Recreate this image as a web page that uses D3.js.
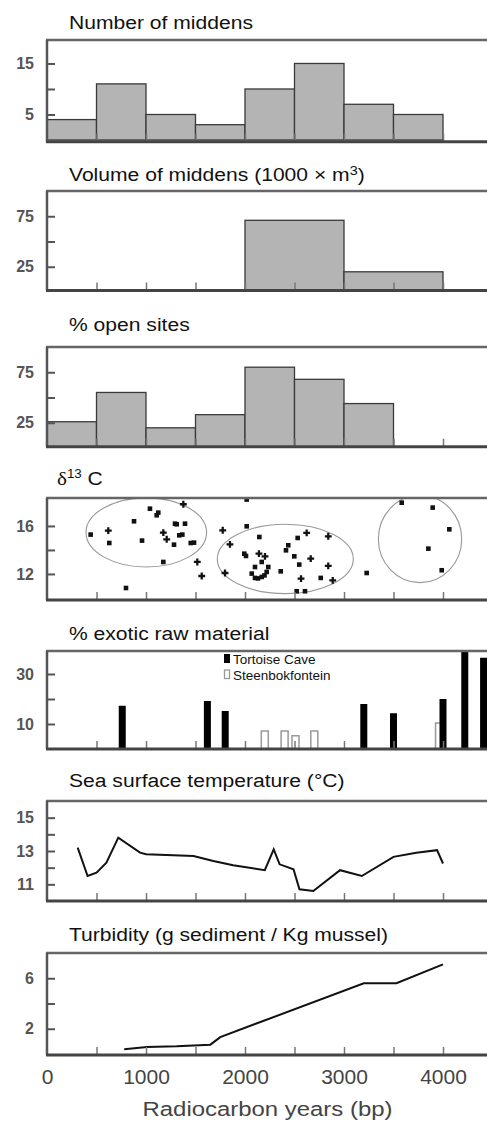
<!DOCTYPE html>
<html>
<head>
<meta charset="utf-8">
<script src="https://cdn.jsdelivr.net/npm/d3@7"></script>
<style>
body { margin: 0; background: #fff; }
svg text { font-family: "Liberation Sans", Arial, sans-serif; }
.title { font-size: 19px; fill: #111; }
.yax text { font-size: 16px; font-weight: bold; fill: #555; }
.xlab text { font-size: 21px; fill: #444; }
</style>
</head>
<body>
<div id="chart"></div>
<script>
// ---- data (years bp) ----
var bins500 = [0, 500, 1000, 1500, 2000, 2500, 3000, 3500, 4000];
var bins1000 = [0, 1000, 2000, 3000, 4000];
var middenCount = [4, 11, 5, 3, 10, 15, 7, 5];
var middenVolume = [2, 1, 71, 20];
var openSites = [26, 55, 20, 33, 80, 68, 44];

var c13Squares = [[441,15.28],[629,14.58],[798,10.83],[879,16.39],[960,14.78],[1040,17.44],[1108,16.89],
  [1124,17.11],[1175,13.0],[1283,14.44],[1293,16.19],[1310,16.14],[1336,15.22],[1367,15.28],[1394,16.19],
  [1452,14.58],[1485,14.61],[2017,18.2],[2017,15.97],[2145,15.08],[1993,13.69],[2010,13.5],[2169,13.0],
  [2101,12.58],[2068,12.03],[2101,11.67],[2131,11.63],[2169,11.75],[2197,11.88],[2219,12.17],[2235,12.58],
  [2361,12.22],[2532,15.0],[2437,14.39],[2414,13.97],[2498,13.47],[2548,12.78],[2765,11.67],[2522,10.56],
  [2606,10.56],[3229,12.08],[3583,17.94],[3896,17.53],[4064,15.72],[3852,14.11],[3987,12.31]];
var c13Crosses = [[619,15.61],[1175,15.44],[1209,14.89],[1377,17.81],[1518,13.0],[1563,11.83],[1775,15.64],
  [1848,14.47],[1798,12.08],[2141,13.69],[2202,13.47],[2623,15.42],[2664,13.28],[2566,11.61],[2841,15.14],
  [2841,12.67],[2886,11.47]];
var c13Clusters = [
  {year: 1003, value: 15.46, rYear: 609, rValue: 2.88},
  {year: 2407, value: 13.25, rYear: 687, rValue: 2.89},
  {year: 3768, value: 14.92, rYear: 421, rValue: 3.64}
];

var tortoiseCave = [[760,17.3],[1620,19.2],[1800,15.2],[3200,18],[3500,14.3],[4000,20],[4220,39],[4410,36.5]];
var steenbokfontein = [[2200,7.2],[2400,7.2],[2510,5.3],[2700,7.2],[3960,10.4]];

var sst = [[310,13.2],[410,11.5],[500,11.7],[600,12.3],[720,13.8],[940,12.9],[1000,12.8],[1480,12.7],
  [1680,12.4],[1880,12.15],[2200,11.85],[2290,13.1],[2350,12.2],[2490,11.9],[2550,10.7],[2690,10.6],
  [2960,11.85],[3180,11.5],[3500,12.65],[3730,12.9],[3940,13.05],[4000,12.25]];
var turbidity = [[780,0.38],[1010,0.56],[1310,0.61],[1650,0.74],[1750,1.34],[3200,5.6],[3530,5.6],[4000,7.1]];

var xMinorTicks = [500, 1000, 1500, 2000, 2500, 3000, 3500, 4000];
var xLabelTicks = [0, 1000, 2000, 3000, 4000];

// ---- layout ----
var W = 487, H = 1122;
var svg = d3.select("#chart").append("svg").attr("width", W).attr("height", H);
var x = d3.scaleLinear().domain([0, 4000]).range([47, 443]);

function title(tx, ty) {
  return svg.append("text").attr("class", "title")
    .attr("transform", "translate(" + tx + "," + ty + ") scale(1.11,1)");
}

var clipId = 0;
function panel(top, base, line, dom, ticks, labels) {
  var y = d3.scaleLinear().domain(dom).range([base, top]);
  var g = svg.append("g");
  clipId++;
  svg.append("clipPath").attr("id", "c" + clipId).append("rect")
    .attr("x", 47).attr("y", top).attr("width", W - 47).attr("height", line - top);
  var marks = g.append("g").attr("clip-path", "url(#c" + clipId + ")");
  var frame = svg.append("g");
  // minor x ticks, inward
  var xa = frame.append("g").attr("transform", "translate(0," + line + ")")
    .call(d3.axisBottom(x).tickValues(xMinorTicks).tickSize(-8).tickFormat(""));
  xa.select(".domain").remove();
  xa.selectAll("line").attr("stroke", "#777").attr("stroke-width", 1.5);
  frame.append("line").attr("x1", 46).attr("x2", W).attr("y1", top).attr("y2", top)
    .attr("stroke", "#666").attr("stroke-width", 2.5);
  frame.append("line").attr("x1", 47).attr("x2", 47).attr("y1", top).attr("y2", line)
    .attr("stroke", "#555").attr("stroke-width", 2.5);
  frame.append("line").attr("x1", 46).attr("x2", W).attr("y1", line).attr("y2", line)
    .attr("stroke", "#444").attr("stroke-width", 3);
  var ya = frame.append("g").attr("class", "yax").attr("transform", "translate(47,0)")
    .call(d3.axisLeft(y).tickValues(ticks).tickSize(-8).tickPadding(13)
      .tickFormat(function (d) { return labels.indexOf(d) >= 0 ? d : ""; }));
  ya.select(".domain").remove();
  ya.selectAll("line").attr("stroke", "#555").attr("stroke-width", 2);
  return {g: marks, y: y};
}

function histogram(p, edges, values) {
  p.g.selectAll("rect.bar").data(values).enter().append("rect")
    .attr("class", "bar")
    .attr("x", function (d, i) { return x(edges[i]); })
    .attr("width", function (d, i) { return x(edges[i + 1]) - x(edges[i]); })
    .attr("y", function (d) { return p.y(d); })
    .attr("height", function (d) { return p.y.range()[0] - p.y(d); })
    .attr("fill", "#b4b4b4").attr("stroke", "#3a3a3a").attr("stroke-width", 1.3);
}

// 1. Number of middens
title(69, 29).text("Number of middens");
var p1 = panel(40, 140, 141.7, [0, 19.6], [5, 10, 15], [5, 15]);
histogram(p1, bins500, middenCount);

// 2. Volume of middens
var t2 = title(69, 181).text("Volume of middens (1000 \u00d7 m");
t2.append("tspan").attr("font-size", "13px").attr("dy", -6).text("3");
t2.append("tspan").attr("dy", 6).text(")");
var p2 = panel(191, 292, 290.5, [0, 100], [25, 50, 75], [25, 75]);
histogram(p2, bins1000, middenVolume);

// 3. % open sites
title(69, 331).text("% open sites");
var p3 = panel(347, 448, 446.7, [0, 100], [25, 50, 75], [25, 75]);
histogram(p3, bins500, openSites);

// 4. delta 13 C
var t4 = title(57, 485);
t4.append("tspan").attr("font-family", "Liberation Serif").text("\u03b4");
t4.append("tspan").attr("font-size", "12px").attr("dy", -7).text("13");
t4.append("tspan").attr("dy", 7).text(" C");
var p4 = panel(498, 600, 600, [9.83, 18.33], [12, 14, 16], [12, 16]);
p4.g.selectAll("ellipse").data(c13Clusters).enter().append("ellipse")
  .attr("cx", function (d) { return x(d.year); })
  .attr("cy", function (d) { return p4.y(d.value); })
  .attr("rx", function (d) { return x(d.year + d.rYear) - x(d.year); })
  .attr("ry", function (d) { return p4.y(d.value) - p4.y(d.value + d.rValue); })
  .attr("fill", "none").attr("stroke", "#999").attr("stroke-width", 1.1);
p4.g.selectAll("rect.pt").data(c13Squares).enter().append("rect").attr("class", "pt")
  .attr("x", function (d) { return x(d[0]) - 2.3; })
  .attr("y", function (d) { return p4.y(d[1]) - 2.3; })
  .attr("width", 4.6).attr("height", 4.6).attr("fill", "#111");
p4.g.selectAll("path.cross").data(c13Crosses).enter().append("path").attr("class", "cross")
  .attr("transform", function (d) { return "translate(" + x(d[0]) + "," + p4.y(d[1]) + ")"; })
  .attr("d", d3.symbol(d3.symbolCross, 26)).attr("fill", "#111");

// 5. % exotic raw material
title(69, 640).text("% exotic raw material");
var p5 = panel(651, 749, 749, [0, 39.2], [10, 20, 30], [10, 30]);
var bw = 7;
p5.g.selectAll("rect.sb").data(steenbokfontein).enter().append("rect").attr("class", "sb")
  .attr("x", function (d) { return x(d[0]) - bw / 2; })
  .attr("y", function (d) { return p5.y(d[1]); })
  .attr("width", bw).attr("height", function (d) { return p5.y(0) - p5.y(d[1]); })
  .attr("fill", "#fff").attr("stroke", "#999").attr("stroke-width", 1.5);
p5.g.selectAll("rect.tc").data(tortoiseCave).enter().append("rect").attr("class", "tc")
  .attr("x", function (d) { return x(d[0]) - bw / 2; })
  .attr("y", function (d) { return p5.y(d[1]); })
  .attr("width", bw).attr("height", function (d) { return p5.y(0) - p5.y(d[1]); })
  .attr("fill", "#000");
var leg = svg.append("g");
leg.append("rect").attr("x", 224).attr("y", 654).attr("width", 6).attr("height", 9).attr("fill", "#000");
leg.append("rect").attr("x", 224.5).attr("y", 670).attr("width", 5).attr("height", 8.5)
  .attr("fill", "#fff").attr("stroke", "#999").attr("stroke-width", 1.3);
leg.append("text").attr("x", 233).attr("y", 664).attr("font-size", "13.5px").attr("fill", "#111").text("Tortoise Cave");
leg.append("text").attr("x", 233).attr("y", 680).attr("font-size", "13.5px").attr("fill", "#111").text("Steenbokfontein");

// 6. Sea surface temperature
title(69, 787).text("Sea surface temperature (\u00b0C)");
var p6 = panel(801, 901, 901, [10, 16], [11, 12, 13, 14, 15], [11, 13, 15]);
p6.g.append("path").datum(sst)
  .attr("d", d3.line().x(function (d) { return x(d[0]); }).y(function (d) { return p6.y(d[1]); }))
  .attr("fill", "none").attr("stroke", "#111").attr("stroke-width", 2);

// 7. Turbidity
title(69, 941).text("Turbidity (g sediment / Kg mussel)");
var p7 = panel(953, 1054, 1055, [0, 8], [2, 4, 6], [2, 6]);
p7.g.append("path").datum(turbidity)
  .attr("d", d3.line().x(function (d) { return x(d[0]); }).y(function (d) { return p7.y(d[1]); }))
  .attr("fill", "none").attr("stroke", "#111").attr("stroke-width", 2);

// bottom axis labels
var xl = svg.append("g").attr("class", "xlab").attr("transform", "translate(0,1055)")
  .call(d3.axisBottom(x).tickValues(xLabelTicks).tickSize(0).tickPadding(14).tickFormat(d3.format("d")));
xl.select(".domain").remove();
svg.append("text").attr("text-anchor", "middle").attr("font-size", "21px").attr("fill", "#444")
  .attr("transform", "translate(267.5,1116) scale(1.14,1)")
  .text("Radiocarbon years (bp)");
</script>
</body>
</html>
